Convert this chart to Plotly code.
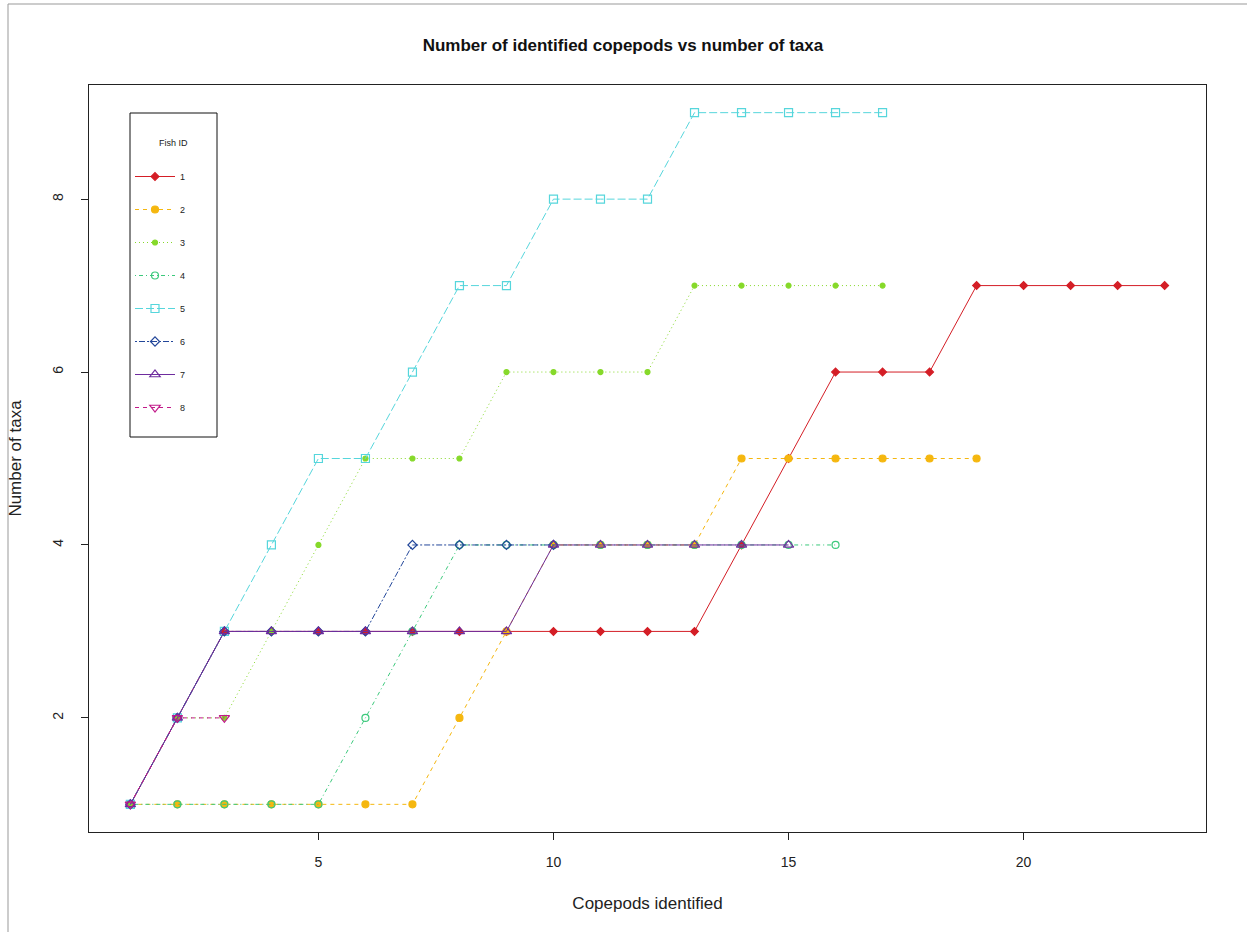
import plotly.graph_objects as go

W, H = 1247, 932
ML, MR, MT, MB = 89, 41, 85, 100

fish_ids = ["1", "2", "3", "4", "5", "6", "7", "8"]
taxa_1 = [1, 2, 3, 3, 3, 3, 3, 3, 3, 3, 3, 3, 3, 4, 5, 6, 6, 6, 7, 7, 7, 7, 7]
taxa_2 = [1, 1, 1, 1, 1, 1, 1, 2, 3, 4, 4, 4, 4, 5, 5, 5, 5, 5, 5]
taxa_3 = [1, 2, 2, 3, 4, 5, 5, 5, 6, 6, 6, 6, 7, 7, 7, 7, 7]
taxa_4 = [1, 1, 1, 1, 1, 2, 3, 4, 4, 4, 4, 4, 4, 4, 4, 4]
taxa_5 = [1, 2, 3, 4, 5, 5, 6, 7, 7, 8, 8, 8, 9, 9, 9, 9, 9]
taxa_6 = [1, 2, 3, 3, 3, 3, 4, 4, 4, 4]
taxa_7 = [1, 2, 3, 3, 3, 3, 3, 3, 3, 4, 4, 4, 4, 4, 4]
taxa_8 = [1, 2, 2]
series = [taxa_1, taxa_2, taxa_3, taxa_4, taxa_5, taxa_6, taxa_7, taxa_8]

x_ticks = [5, 10, 15, 20]
y_ticks = [2, 4, 6, 8]

colors = ["#D41E26", "#F5B70F", "#86D92A", "#3CC97C", "#56D6DC", "#23479A", "#6E2C9E", "#C21A8A"]
symbols = ["diamond", "circle", "circle", "circle-open", "square-open",
           "diamond-open", "triangle-up-open", "triangle-down-open"]
sizes = [6, 7, 5, 7, 8, 7, 9, 9]
dashes = ["solid", "4px,4px", "1px,3px", "1px,3px,4px,3px", "8px,3px",
          "2px,2px,6px,2px", "solid", "4px,4px"]

fig = go.Figure()
for i, (fid, ys) in enumerate(zip(fish_ids, series)):
    xs = list(range(1, len(ys) + 1))
    fig.add_trace(go.Scatter(
        x=xs, y=ys, name=fid, mode="lines+markers",
        legendgroup=fid,
        line=dict(color=colors[i], width=1, dash=dashes[i]),
        marker=dict(symbol=symbols[i], size=sizes[i], color=colors[i],
                    line=dict(color=colors[i], width=1.2)),
    ))

pw = W - ML - MR
ph = H - MT - MB
def px(xp):
    return (xp - ML) / pw
def py(yp):
    return 1 - (yp - MT) / ph

font = "Liberation Sans, Arial, sans-serif"
fig.update_layout(
    width=W, height=H,
    margin=dict(l=ML, r=MR, t=MT, b=MB),
    paper_bgcolor="white", plot_bgcolor="white",
    font=dict(family=font, size=14, color="#222"),
    title=dict(text="<b>Number of identified copepods vs number of taxa</b>",
               x=px(647), xanchor="center", y=1 - 45 / H, yanchor="middle",
               font=dict(size=17, color="#111")),
    xaxis=dict(range=[0.12, 23.88], tickvals=x_ticks, ticks="outside", ticklen=7,
               ticklabelstandoff=10,
               showgrid=False, zeroline=False, showline=True, mirror=True,
               linecolor="#222", linewidth=1, tickcolor="#222",
               title=dict(text="Copepods identified", standoff=28)),
    yaxis=dict(range=[0.68, 9.32], tickvals=y_ticks, ticks="outside", ticklen=7,
               tickangle=-90, ticklabelstandoff=12,
               showgrid=False, zeroline=False, showline=True, mirror=True,
               linecolor="#222", linewidth=1, tickcolor="#222",
               title=dict(text="Number of taxa", standoff=24)),
    legend=dict(x=px(130), y=py(162), xanchor="left", yanchor="top",
                bgcolor="rgba(0,0,0,0)", borderwidth=0,
                font=dict(size=9, color="#222"), tracegroupgap=14,
                itemwidth=40),
    showlegend=True,
)

# legend box (white panel like R's legend)
fig.add_shape(type="rect", xref="paper", yref="paper", layer="above",
              x0=px(130), x1=px(217), y0=py(437), y1=py(113),
              fillcolor="white", line=dict(color="#111", width=1))
fig.add_annotation(text="Fish ID", xref="paper", yref="paper",
                   x=px(173), y=py(143), xanchor="center", yanchor="middle",
                   showarrow=False, font=dict(size=9, color="#222"))

fig.add_shape(type="line", xref="paper", yref="paper",
              x0=px(8), x1=px(8), y0=py(4), y1=py(H), line=dict(color="#999", width=1))
fig.add_shape(type="line", xref="paper", yref="paper",
              x0=px(8), x1=px(W), y0=py(4), y1=py(4), line=dict(color="#999", width=1))

fig.write_html("out.html")
